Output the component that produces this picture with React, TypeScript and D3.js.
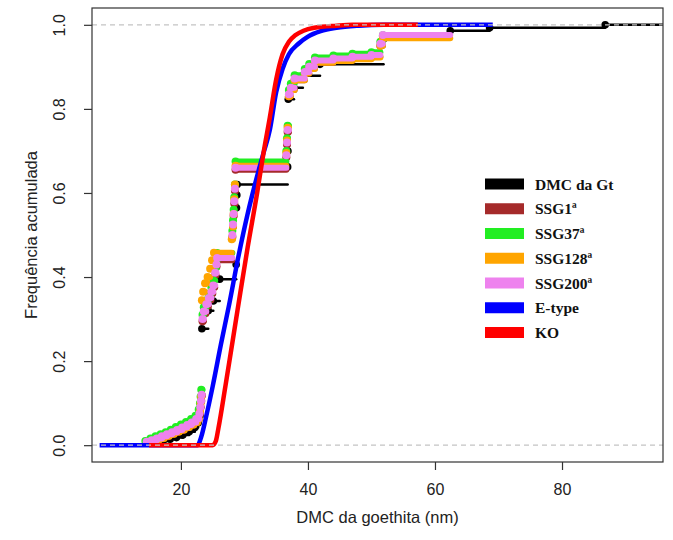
import React, { useRef, useEffect } from "react";
import * as d3 from "d3";

const WIDTH = 673;
const HEIGHT = 540;
const PLOT = { left: 92, right: 663, top: 8, bottom: 462 };

const X_DOMAIN = [6.0, 95.9];
const Y_DOMAIN = [-0.04, 1.04];
const X_TICKS = [20, 40, 60, 80];
const Y_TICKS = [0, 0.2, 0.4, 0.6, 0.8, 1.0];

// empirical steps: [x, F]
const DMC_GT = [
  [16.0, 0.005], [17.2, 0.01], [18.3, 0.014], [19.3, 0.018], [20.3, 0.024],
  [21.3, 0.032], [22.2, 0.042], [22.7, 0.053], [23.0, 0.07],
  [23.3, 0.277], [24.3, 0.32], [25.1, 0.343], [26.1, 0.395], [28.7, 0.43],
  [28.75, 0.565], [28.8, 0.595], [28.85, 0.62],
  [36.8, 0.662], [36.85, 0.7], [36.9, 0.823], [37.8, 0.85], [39.2, 0.879],
  [41.9, 0.906], [51.9, 0.966], [62.4, 0.986], [68.6, 0.993], [86.8, 1.0],
];
const DMC_GT_END = 97;

const SSG1 = [
  [14.8, 0.006], [15.6, 0.01], [16.4, 0.014], [17.2, 0.019], [18.0, 0.024],
  [18.8, 0.029], [19.6, 0.034], [20.4, 0.04], [21.2, 0.046], [21.9, 0.052],
  [22.5, 0.06], [22.95, 0.075], [23.1, 0.09], [23.2, 0.105], [23.3, 0.118],
  [23.4, 0.295], [23.6, 0.312], [24.0, 0.33], [24.4, 0.345], [24.8, 0.36],
  [25.1, 0.375], [25.4, 0.405], [25.6, 0.425], [25.7, 0.44],
  [28.1, 0.495], [28.2, 0.52], [28.3, 0.545], [28.4, 0.575], [28.5, 0.605], [28.6, 0.655],
  [36.6, 0.685], [36.7, 0.715], [36.8, 0.745], [37.0, 0.83], [37.3, 0.845],
  [37.9, 0.868], [39.5, 0.884], [40.2, 0.896], [41.1, 0.91], [44.0, 0.915],
  [47.0, 0.92], [50.0, 0.924], [51.4, 0.95], [51.8, 0.972],
];
const SSG1_END = 60;

const SSG37 = [
  [14.4, 0.01], [15.2, 0.016], [16.0, 0.021], [16.8, 0.026], [17.6, 0.031],
  [18.4, 0.037], [19.2, 0.043], [20.0, 0.049], [20.8, 0.055], [21.6, 0.062],
  [22.3, 0.07], [22.8, 0.085], [23.0, 0.1], [23.1, 0.115], [23.2, 0.132],
  [23.4, 0.31], [23.6, 0.328], [24.0, 0.345], [24.4, 0.36], [24.8, 0.375],
  [25.1, 0.392], [25.4, 0.42], [25.6, 0.44], [25.7, 0.457],
  [28.1, 0.51], [28.2, 0.535], [28.3, 0.56], [28.4, 0.59], [28.5, 0.62], [28.6, 0.675],
  [36.6, 0.7], [36.7, 0.73], [36.8, 0.76], [37.0, 0.845], [37.3, 0.86],
  [37.9, 0.88], [39.5, 0.895], [40.2, 0.907], [41.1, 0.922], [44.0, 0.927],
  [47.0, 0.931], [50.0, 0.935], [51.4, 0.96], [51.8, 0.975],
];
const SSG37_END = 58;

const SSG128 = [
  [15.0, 0.007], [15.8, 0.011], [16.6, 0.015], [17.4, 0.02], [18.2, 0.025],
  [19.0, 0.03], [19.8, 0.035], [20.6, 0.041], [21.4, 0.047], [22.1, 0.053],
  [22.7, 0.062], [23.0, 0.08], [23.1, 0.1], [23.2, 0.115],
  [23.3, 0.345], [23.5, 0.365], [23.8, 0.385], [24.2, 0.4], [24.6, 0.42],
  [24.9, 0.44], [25.2, 0.458],
  [28.0, 0.49], [28.2, 0.52], [28.3, 0.55], [28.4, 0.585], [28.5, 0.62], [28.6, 0.665],
  [36.6, 0.695], [36.7, 0.725], [36.8, 0.755], [37.0, 0.83], [37.3, 0.845],
  [37.9, 0.868], [39.5, 0.884], [40.2, 0.895], [41.1, 0.91], [44.0, 0.914],
  [47.0, 0.918], [50.0, 0.922], [51.4, 0.95], [51.8, 0.968],
];
const SSG128_END = 62.4;

const SSG200 = [
  [14.6, 0.008], [15.4, 0.012], [16.2, 0.016], [17.0, 0.021], [17.8, 0.026],
  [18.6, 0.031], [19.4, 0.036], [20.2, 0.042], [21.0, 0.048], [21.7, 0.054],
  [22.4, 0.062], [22.9, 0.075], [23.05, 0.09], [23.15, 0.105], [23.25, 0.12],
  [23.4, 0.3], [23.6, 0.318], [24.0, 0.335], [24.4, 0.35], [24.8, 0.365],
  [25.1, 0.38], [25.4, 0.41], [25.6, 0.43], [25.7, 0.445],
  [28.1, 0.5], [28.2, 0.525], [28.3, 0.55], [28.4, 0.58], [28.5, 0.61], [28.6, 0.66],
  [36.6, 0.69], [36.7, 0.72], [36.8, 0.75], [37.0, 0.835], [37.3, 0.85],
  [37.9, 0.872], [39.5, 0.888], [40.2, 0.9], [41.1, 0.915], [44.0, 0.92],
  [47.0, 0.924], [50.0, 0.928], [51.4, 0.955], [51.8, 0.976],
];
const SSG200_END = 62.4;

// fitted curves: [x, F]
const E_TYPE = [
  [7.2, 0], [22.6, 0], [23.2, 0.02], [24.0, 0.07], [25.0, 0.14], [26.3, 0.24],
  [27.6, 0.335], [29.0, 0.445], [30.5, 0.55], [32.0, 0.64], [33.0, 0.695],
  [34.0, 0.75], [35.0, 0.84], [36.0, 0.895], [37.0, 0.93], [38.5, 0.955],
  [40.0, 0.972], [42.0, 0.985], [44.5, 0.993], [48.0, 0.998], [52.0, 1], [69.1, 1],
];
const KO = [
  [15.0, 0], [25.0, 0], [25.5, 0.01], [25.9, 0.04], [27.0, 0.14], [28.9, 0.32],
  [30.5, 0.47], [32.0, 0.6], [33.0, 0.695], [34.0, 0.78], [35.0, 0.87],
  [36.0, 0.93], [37.0, 0.96], [38.0, 0.975], [39.3, 0.986], [41.0, 0.993],
  [44.5, 0.998], [47.0, 1], [57.3, 1],
];

const LEGEND_LABELS = ["DMC da Gt", "SSG1ª", "SSG37ª", "SSG128ª", "SSG200ª", "E-type", "KO"];
const LEGEND_COLORS = ["#000000", "#a52a2a", "#22ee22", "#ffa500", "#ee82ee", "#0000ff", "#ff0000"];

export default function App() {
  const svgRef = useRef(null);

  useEffect(() => {
    const svg = d3.select(svgRef.current);
    svg.selectAll("*").remove();

    const x = d3.scaleLinear().domain(X_DOMAIN).range([PLOT.left, PLOT.right]);
    const y = d3.scaleLinear().domain(Y_DOMAIN).range([PLOT.bottom, PLOT.top]);

    svg
      .append("defs")
      .append("clipPath")
      .attr("id", "plot-clip")
      .append("rect")
      .attr("x", PLOT.left)
      .attr("y", PLOT.top)
      .attr("width", PLOT.right - PLOT.left)
      .attr("height", PLOT.bottom - PLOT.top);

    const g = svg.append("g").attr("clip-path", "url(#plot-clip)");

    // ── step series ────────────────────────────────────────
    const drawSteps = (steps, end, color, lw, r) => {
      const segs = steps.map((d, i) => [d[0], i < steps.length - 1 ? steps[i + 1][0] : end, d[1]]);
      g.append("g")
        .selectAll("line")
        .data(segs)
        .join("line")
        .attr("x1", (d) => x(d[0]))
        .attr("x2", (d) => x(d[1]))
        .attr("y1", (d) => y(d[2]))
        .attr("y2", (d) => y(d[2]))
        .attr("stroke", color)
        .attr("stroke-width", lw)
        .attr("stroke-linecap", "round");
      g.append("g")
        .selectAll("circle")
        .data(steps)
        .join("circle")
        .attr("cx", (d) => x(d[0]))
        .attr("cy", (d) => y(d[1]))
        .attr("r", r)
        .attr("fill", color);
    };

    drawSteps(DMC_GT, DMC_GT_END, LEGEND_COLORS[0], 2.5, 3.8);
    drawSteps(SSG1, SSG1_END, LEGEND_COLORS[1], 6, 4);
    drawSteps(SSG37, SSG37_END, LEGEND_COLORS[2], 6, 4);
    drawSteps(SSG128, SSG128_END, LEGEND_COLORS[3], 6, 4);
    drawSteps(SSG200, SSG200_END, LEGEND_COLORS[4], 6, 4);

    // ── fitted curves ──────────────────────────────────────
    const line = d3
      .line()
      .x((d) => x(d[0]))
      .y((d) => y(d[1]))
      .curve(d3.curveMonotoneX);

    g.append("path").attr("d", line(E_TYPE)).attr("fill", "none").attr("stroke", LEGEND_COLORS[5]).attr("stroke-width", 4.5);
    g.append("path").attr("d", line(KO)).attr("fill", "none").attr("stroke", LEGEND_COLORS[6]).attr("stroke-width", 4.5);

    // ── reference lines at 0 and 1 ─────────────────────────
    [0, 1].forEach((v) => {
      g.append("line")
        .attr("x1", PLOT.left)
        .attr("x2", PLOT.right)
        .attr("y1", y(v))
        .attr("y2", y(v))
        .attr("stroke", "#c4c4c4")
        .attr("stroke-width", 1.3)
        .attr("stroke-dasharray", "5,4");
    });

    // ── frame ──────────────────────────────────────────────
    svg
      .append("rect")
      .attr("x", PLOT.left)
      .attr("y", PLOT.top)
      .attr("width", PLOT.right - PLOT.left)
      .attr("height", PLOT.bottom - PLOT.top)
      .attr("fill", "none")
      .attr("stroke", "#333")
      .attr("stroke-width", 1.2);

    // ── axes ───────────────────────────────────────────────
    const xAxis = svg
      .append("g")
      .attr("transform", `translate(0,${PLOT.bottom})`)
      .call(d3.axisBottom(x).tickValues(X_TICKS).tickSize(8).tickPadding(14).tickFormat(d3.format("d")));
    xAxis.select(".domain").remove();
    xAxis.selectAll("line").attr("stroke", "#333").attr("stroke-width", 1.2);
    xAxis
      .selectAll("text")
      .attr("font-size", 16)
      .attr("fill", "#222")
      .attr("font-family", "'Liberation Sans', Arial, sans-serif");

    const yAxis = svg
      .append("g")
      .attr("transform", `translate(${PLOT.left},0)`)
      .call(d3.axisLeft(y).tickValues(Y_TICKS).tickSize(8).tickFormat(d3.format(".1f")));
    yAxis.select(".domain").remove();
    yAxis.selectAll("line").attr("stroke", "#333").attr("stroke-width", 1.2);
    yAxis
      .selectAll("text")
      .attr("font-size", 16)
      .attr("fill", "#222")
      .attr("font-family", "'Liberation Sans', Arial, sans-serif")
      .attr("text-anchor", "middle")
      .attr("transform", "rotate(-90)")
      .attr("x", 0)
      .attr("y", -27)
      .attr("dy", 0);

    // ── axis titles ────────────────────────────────────────
    svg
      .append("text")
      .attr("x", (PLOT.left + PLOT.right) / 2)
      .attr("y", 523)
      .attr("text-anchor", "middle")
      .attr("font-size", 16.5)
      .attr("fill", "#222")
      .attr("font-family", "'Liberation Sans', Arial, sans-serif")
      .text("DMC da goethita (nm)");

    svg
      .append("text")
      .attr("transform", `translate(37,${(PLOT.top + PLOT.bottom) / 2}) rotate(-90)`)
      .attr("text-anchor", "middle")
      .attr("font-size", 16.5)
      .attr("fill", "#222")
      .attr("font-family", "'Liberation Sans', Arial, sans-serif")
      .text("Frequência acumulada");

    // ── legend ─────────────────────────────────────────────
    const legend = svg.append("g").attr("transform", "translate(485,184)");
    LEGEND_LABELS.forEach((lab, i) => {
      const row = legend.append("g").attr("transform", `translate(0,${i * 24.75})`);
      row.append("rect").attr("x", 0).attr("y", -5.5).attr("width", 39).attr("height", 11).attr("fill", LEGEND_COLORS[i]);
      row
        .append("text")
        .attr("x", 50)
        .attr("y", 5.5)
        .attr("font-size", 15.5)
        .attr("font-weight", 700)
        .attr("font-family", "'Liberation Serif', 'Times New Roman', serif")
        .attr("fill", "#111")
        .text(lab);
    });
  }, []);

  return (
    <svg
      ref={svgRef}
      width={WIDTH}
      height={HEIGHT}
      style={{ position: "absolute", left: 0, top: 0, background: "#fff" }}
    />
  );
}
